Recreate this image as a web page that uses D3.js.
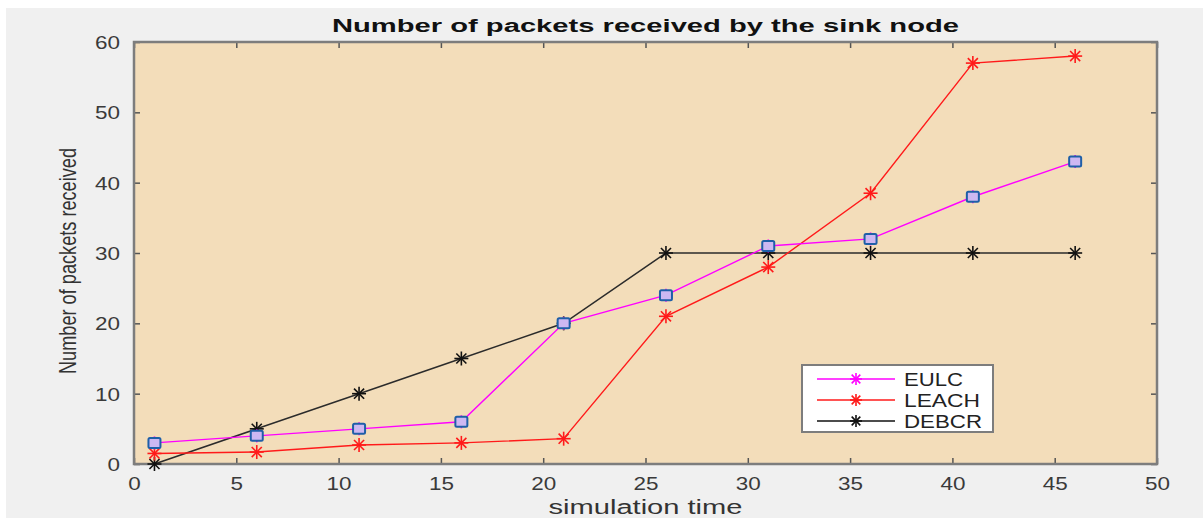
<!DOCTYPE html>
<html>
<head>
<meta charset="utf-8">
<script src="https://cdn.jsdelivr.net/npm/d3@7"></script>
<style>
  html, body { margin: 0; padding: 0; background: #ffffff; }
  svg { display: block; }
</style>
</head>
<body>
<svg id="chart" width="1203" height="518"></svg>
<script>
// Simulation time steps and packets received at the sink for each protocol
const simTime = [1, 6, 11, 16, 21, 26, 31, 36, 41, 46];
const eulc    = [3, 4, 5, 6, 20, 24, 31, 32, 38, 43];
const leach   = [1.5, 1.7, 2.7, 3, 3.6, 21, 28, 38.5, 57, 58];
const debcr   = [0, 5, 10, 15, 20, 30, 30, 30, 30, 30];
const xTicks  = [0, 5, 10, 15, 20, 25, 30, 35, 40, 45, 50];
const yTicks  = [0, 10, 20, 30, 40, 50, 60];
const seriesNames = ["EULC", "LEACH", "DEBCR"];

const svg = d3.select("#chart");
const W = 1203, H = 518;
const plot = { left: 134, right: 1157, top: 42, bottom: 464 };

// Figure background
svg.append("rect").attr("x", 6).attr("y", 8).attr("width", W - 6).attr("height", H - 8)
  .attr("fill", "#f0f0f0");

const x = d3.scaleLinear().domain([0, 50]).range([plot.left, plot.right]);
const y = d3.scaleLinear().domain([0, 60]).range([plot.bottom, plot.top]);

// Axes area
svg.append("rect")
  .attr("x", plot.left).attr("y", plot.top)
  .attr("width", plot.right - plot.left).attr("height", plot.bottom - plot.top)
  .attr("fill", "#f3ddba");

const axisColor = "#7d7d7d";
const tickFont = "Liberation Sans, Arial, sans-serif";

// Bottom and left axes with inward ticks
const gx = svg.append("g").attr("transform", `translate(0,${plot.bottom})`)
  .call(d3.axisBottom(x).tickValues(xTicks).tickSize(-6).tickFormat(d3.format("d")));
const gy = svg.append("g").attr("transform", `translate(${plot.left},0)`)
  .call(d3.axisLeft(y).tickValues(yTicks).tickSize(-6).tickFormat(d3.format("d")));
// Top and right mirror ticks
const gxt = svg.append("g").attr("transform", `translate(0,${plot.top})`)
  .call(d3.axisTop(x).tickValues(xTicks).tickSize(-6).tickFormat(""));
const gyr = svg.append("g").attr("transform", `translate(${plot.right},0)`)
  .call(d3.axisRight(y).tickValues(yTicks).tickSize(-6).tickFormat(""));

[gx, gy, gxt, gyr].forEach(g => {
  g.select(".domain").remove();
  g.selectAll(".tick line").attr("stroke", "#555").attr("stroke-width", 1.5);
  g.selectAll(".tick text").attr("fill", "#3a3a3a").style("font-family", tickFont).style("font-size", "18px")
    .attr("lengthAdjust", "spacingAndGlyphs")
    .attr("textLength", function () { return this.textContent.length * 12.5; });
});
gx.selectAll(".tick text").attr("dy", "0.71em").attr("y", 13);
gy.selectAll(".tick text").attr("x", -14).attr("dy", "0.36em");

// Box frame
svg.append("rect")
  .attr("x", plot.left).attr("y", plot.top)
  .attr("width", plot.right - plot.left).attr("height", plot.bottom - plot.top)
  .attr("fill", "none").attr("stroke", axisColor).attr("stroke-width", 2.5);

// Marker helpers
function asterisk(g, cx, cy, color, r) {
  const a = g.append("g").attr("transform", `translate(${cx},${cy})`)
    .attr("stroke", color).attr("stroke-width", 1.6);
  a.append("line").attr("x1", -r).attr("x2", r).attr("y1", 0).attr("y2", 0);
  a.append("line").attr("x1", 0).attr("x2", 0).attr("y1", -r).attr("y2", r);
  const d = r * 0.72;
  a.append("line").attr("x1", -d).attr("x2", d).attr("y1", -d).attr("y2", d);
  a.append("line").attr("x1", -d).attr("x2", d).attr("y1", d).attr("y2", -d);
}

const line = d3.line().x(d => x(d[0])).y(d => y(d[1]));
const layer = svg.append("g");

function drawSeries(vals, color, width) {
  const pts = simTime.map((t, i) => [t, vals[i]]);
  layer.append("path").datum(pts).attr("d", line)
    .attr("fill", "none").attr("stroke", color).attr("stroke-width", width);
  return pts;
}

const debPts = drawSeries(debcr, "#2b2b2b", 1.5);
const leachPts = drawSeries(leach, "#ff1a1a", 1.4);
const eulcPts = drawSeries(eulc, "#ff00ff", 1.4);

debPts.forEach(p => asterisk(layer, x(p[0]), y(p[1]), "#111", 7));
leachPts.forEach(p => asterisk(layer, x(p[0]), y(p[1]), "#ff1a1a", 7));
eulcPts.forEach(p => {
  asterisk(layer, x(p[0]), y(p[1]), "#ff00ff", 6.5);
  layer.append("rect")
    .attr("x", x(p[0]) - 6).attr("y", y(p[1]) - 5)
    .attr("width", 12).attr("height", 10).attr("rx", 1.5)
    .attr("fill", "#cdb8f2").attr("stroke", "#1f5fa8").attr("stroke-width", 2);
});

// Title and axis labels
svg.append("text")
  .attr("x", (plot.left + plot.right) / 2).attr("y", 32)
  .attr("text-anchor", "middle")
  .attr("textLength", 627).attr("lengthAdjust", "spacingAndGlyphs")
  .style("font-family", "Liberation Sans, Arial, sans-serif")
  .style("font-weight", "bold").style("font-size", "18px").attr("fill", "#111")
  .text("Number of packets received by the sink node");

svg.append("text")
  .attr("x", (plot.left + plot.right) / 2).attr("y", 514)
  .attr("text-anchor", "middle")
  .attr("textLength", 194).attr("lengthAdjust", "spacingAndGlyphs")
  .style("font-family", "Liberation Sans, Arial, sans-serif")
  .style("font-size", "20px").attr("fill", "#333")
  .text("simulation time");

svg.append("text")
  .attr("transform", `translate(76,${(plot.top + plot.bottom) / 2 + 8}) rotate(-90)`)
  .attr("text-anchor", "middle")
  .attr("textLength", 226).attr("lengthAdjust", "spacingAndGlyphs")
  .style("font-family", "Liberation Sans Narrow, Liberation Sans, Arial, sans-serif")
  .style("font-size", "24px").attr("fill", "#333")
  .text("Number of packets received");

// Legend
const leg = svg.append("g");
leg.append("rect").attr("x", 802).attr("y", 365).attr("width", 191).attr("height", 67)
  .attr("fill", "#ffffff").attr("stroke", "#7d7d7d").attr("stroke-width", 2);
const legColors = ["#ff00ff", "#ff1a1a", "#111"];
const legWidths = [59, 76, 78];
seriesNames.forEach((name, i) => {
  const ly = 379 + i * 21;
  leg.append("line").attr("x1", 817).attr("x2", 895).attr("y1", ly).attr("y2", ly)
    .attr("stroke", legColors[i]).attr("stroke-width", 1.5);
  asterisk(leg, 856, ly, legColors[i], 6);
  leg.append("text").attr("x", 904).attr("y", ly + 7)
    .attr("textLength", legWidths[i]).attr("lengthAdjust", "spacingAndGlyphs")
    .style("font-family", tickFont).style("font-size", "18px").attr("fill", "#222")
    .text(name);
});
</script>
</body>
</html>
